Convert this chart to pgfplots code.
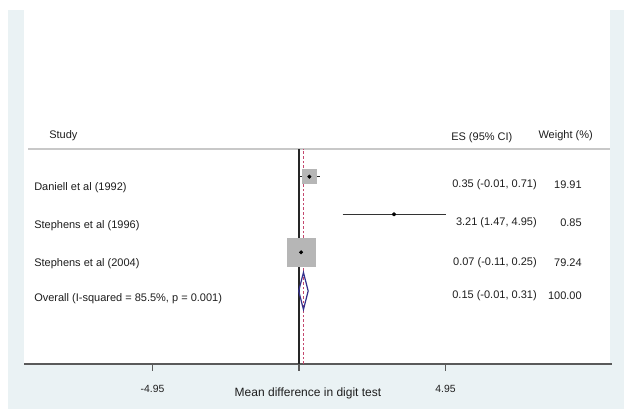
\documentclass[border=0pt]{standalone}
\usepackage{fontspec}
\setmainfont{Liberation Sans}
\usepackage{pgfplots}
\pgfplotsset{compat=1.18}
\definecolor{bgblue}{HTML}{EAF2F4}
\definecolor{boxgray}{HTML}{B6B6B6}
\definecolor{axgray}{HTML}{5A5A5A}
\definecolor{hdrgray}{HTML}{C8C8C8}
\definecolor{refred}{HTML}{C4486E}
\definecolor{dmdblue}{HTML}{34308C}
\definecolor{txt}{HTML}{1E1E1E}
\tikzset{lbl/.style={font=\fontsize{8.25pt}{10pt}\selectfont, text=txt, inner sep=0pt}}
\begin{document}
\begin{tikzpicture}[x=0.75pt,y=0.75pt]
\useasboundingbox (0,0) rectangle (624,409);
\fill[white] (0,0) rectangle (624,409);
\fill[bgblue] (8,0) rectangle (624,399);
\fill[white] (24,45) rectangle (610,409);
\coordinate (P) at (24,45);
\begin{axis}[
  at={(P)}, anchor=south west,
  scale only axis, width=441pt, height=273pt,
  xmin=-9.2905, xmax=10.574, ymin=0, ymax=364,
  axis x line*=bottom, axis y line=none,
  x axis line style={axgray, line width=1.1pt},
  xtick={-4.95,0,4.95}, xticklabels={,,},
  xtick pos=bottom, xtick align=outside,
  major tick length=5pt,
  major x tick style={draw=axgray, line width=1pt},
  clip=false,
]
% header rule
\addplot[hdrgray, line width=0.9pt] coordinates {(-9.155,215) (10.51,215)};
% null line and overall line
\addplot[black!85, line width=0.85pt] coordinates {(0,0) (0,215)};
\addplot[refred, line width=0.8pt, dash pattern=on 2pt off 1.5pt] coordinates {(0.15,0) (0.15,215)};
% weight boxes
\addplot[only marks, mark=square*, mark size=5.25pt, mark options={fill=boxgray, draw=boxgray}] coordinates {(0.35,187.3)};
\addplot[only marks, mark=square*, mark size=1.1pt, mark options={fill=boxgray, draw=boxgray}] coordinates {(3.21,149.7)};
\addplot[only marks, mark=square*, mark size=10.5pt, mark options={fill=boxgray, draw=boxgray}] coordinates {(0.07,111.7)};
% confidence intervals
\addplot[black!85, line width=0.9pt] coordinates {(-0.01,187.3) (0.71,187.3)};
\addplot[black!80, line width=1pt] coordinates {(1.47,149.7) (4.95,149.7)};
\addplot[black!85, line width=0.9pt] coordinates {(-0.11,111.7) (0.25,111.7)};
% point estimates
\addplot[only marks, mark=*, mark size=1.3pt, mark options={fill=black, draw=black}] coordinates {(0.35,187.3) (3.21,149.7) (0.07,111.7)};
% overall diamond
\addplot[dmdblue, line width=0.9pt] coordinates {(-0.01,73) (0.15,91.5) (0.31,73) (0.15,54.5) (-0.01,73)};
% tick marks
\draw[axgray, line width=1pt] (axis cs:-4.95,0) -- (axis cs:-4.95,-7);
\draw[axgray, line width=1pt] (axis cs:0,0) -- (axis cs:0,-7);
\draw[axgray, line width=1pt] (axis cs:4.95,0) -- (axis cs:4.95,-7);
% left column
\node[lbl, anchor=west] at (axis cs:-8.446,228.3) {Study};
\node[lbl, anchor=west] at (axis cs:-8.953,176) {Daniell et al (1992)};
\node[lbl, anchor=west] at (axis cs:-8.953,138) {Stephens et al (1996)};
\node[lbl, anchor=west] at (axis cs:-8.953,100) {Stephens et al (2004)};
\node[lbl, anchor=west] at (axis cs:-8.953,65) {Overall (I-squared = 85.5\%, p = 0.001)};
% right columns
\node[lbl, anchor=west] at (axis cs:5.135,226) {ES (95\% CI)};
\node[lbl, anchor=east] at (axis cs:9.932,228) {Weight (\%)};
\node[lbl, anchor=east] at (axis cs:8.04,179) {0.35 (-0.01, 0.71)};
\node[lbl, anchor=east] at (axis cs:8.04,141) {3.21 (1.47, 4.95)};
\node[lbl, anchor=east] at (axis cs:8.04,101.3) {0.07 (-0.11, 0.25)};
\node[lbl, anchor=east] at (axis cs:8.04,68) {0.15 (-0.01, 0.31)};
\node[lbl, anchor=east] at (axis cs:9.56,179) {19.91};
\node[lbl, anchor=east] at (axis cs:9.56,141) {0.85};
\node[lbl, anchor=east] at (axis cs:9.56,101.3) {79.24};
\node[lbl, anchor=east] at (axis cs:9.56,68) {100.00};
% tick labels and axis title
\node[lbl, font=\fontsize{7.8pt}{9pt}\selectfont] at (axis cs:-4.95,-25) {-4.95};
\node[lbl, font=\fontsize{7.8pt}{9pt}\selectfont] at (axis cs:4.95,-25) {4.95};
\node[lbl, font=\fontsize{9pt}{11pt}\selectfont] at (axis cs:0.304,-29.5) {Mean difference in digit test};
\end{axis}
\end{tikzpicture}
\end{document}
